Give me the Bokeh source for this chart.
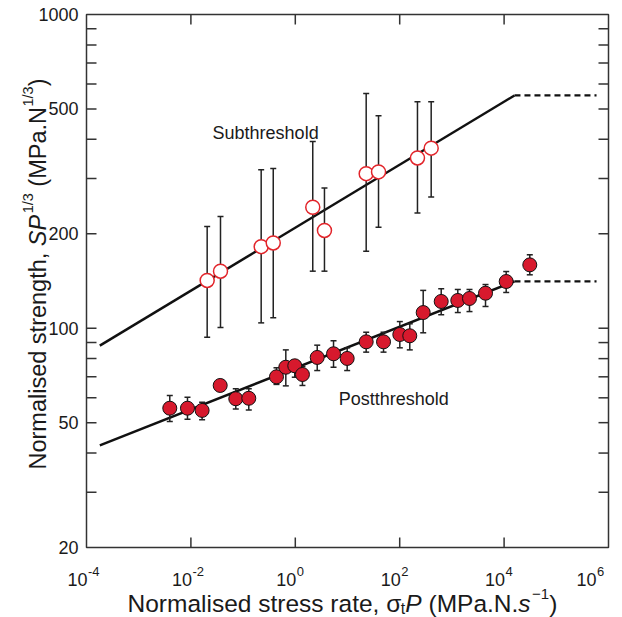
import math
from bokeh.plotting import figure
from bokeh.embed import file_html
from bokeh.resources import INLINE
from bokeh.core.properties import value

# ---------------- data ----------------
sub_x = [0.0205, 0.0369, 0.222, 0.378, 2.16, 3.62, 22.8, 39.3, 219, 401]
sub_y = [142, 152, 182, 187, 243, 205, 311, 315, 349, 375]
sub_hi = [211, 227, 320, 323, 394, 280, 560, 476, 527, 527]
sub_lo = [93.6, 100.5, 104, 108, 152, 152, 176, 210, 233, 262]

post_x = [0.00394, 0.0086, 0.0164, 0.0364, 0.0724, 0.1285, 0.436, 0.658, 0.977, 1.37,
          2.63, 5.40, 9.86, 22.8, 49.0, 100.5, 156, 282, 624, 1297, 2173, 4406, 10970, 31050]
post_y = [55.6, 55.6, 54.7, 65.7, 59.6, 59.8, 70.0, 75.1, 75.9, 71.2,
          80.7, 82.9, 80.1, 90.5, 90.5, 95.5, 94.6, 112.2, 121.7, 122.6, 124.4, 129.3, 140.9, 159.2]
post_hi = [61.0, 60.3, 58.1, None, 64.1, 64.1, 74.8, 85.3, 78.9, 75.5,
           88.3, 91.2, 86.6, 97.1, 97.1, 105, 103.3, 132, 133.6, 132.9, 132.9, 137.8, 151.6, 171.4]
post_lo = [50.4, 51.3, 51.1, None, 55.3, 54.9, 66.2, 65.5, 69.8, 65.7,
           73.3, 75.1, 73.3, 83.9, 83.9, 86.6, 85.3, 96.7, 110.4, 112.2, 113, 117.3, 130, 148]

sub_fit_x = [1.8e-4, 1.58e4]
sub_fit_y = [88, 552]
post_fit_x = [1.8e-4, 1.58e4]
post_fit_y = [42.3, 141]
plateau_end = 5.9e5

x_lim = [1e-4, 1e6]
y_lim = [20, 1000]
x_ticks = [1e-4, 1e-2, 1.0, 1e2, 1e4, 1e6]
x_exps = ["-4", "-2", "0", "2", "4", "6"]
y_ticks = [20, 50, 100, 200, 500, 1000]
y_minor = [30, 40, 60, 70, 80, 90, 300, 400, 600, 700, 800, 900]
y_labels = ["20", "50", "100", "200", "500", "1000"]

annot_text = ["Subthreshold", "Postthreshold"]
annot_x = [0.026, 6.8]
annot_y = [418, 59.3]

# ---------------- layout / style ----------------
FONT = "Liberation Sans"
INK = "#1a1a1a"
FRAME = "#333333"
RED = "#d7192d"
OPEN_RED = "#e2252b"

WIDTH, HEIGHT = 622, 617
BOX_L, BOX_R, BOX_T, BOX_B = 86, 608, 14, 547   # pixel edges of the plotting box
TICK = 10

W = {' ': 278, '(': 333, ')': 333, ',': 278, '-': 333, '.': 278, '/': 278,
     'M': 833, 'N': 722, 'P': 667, 'S': 667,
     'a': 556, 'd': 556, 'e': 556, 'g': 556, 'h': 556, 'i': 222, 'l': 222,
     'm': 833, 'n': 556, 'o': 556, 'r': 333, 's': 500, 't': 278,
     '\u03c3': 600, '\u2212': 584}


def tw(s, size):
    return sum(W.get(c, 556) for c in s) * size / 1000.0


# ranges chosen so that the box [x_lim, y_lim] sits at the pixel edges above
lx0, lx1 = math.log10(x_lim[0]), math.log10(x_lim[1])
ly0, ly1 = math.log10(y_lim[0]), math.log10(y_lim[1])
dpx = (BOX_R - BOX_L) / (lx1 - lx0)
dpy = (BOX_B - BOX_T) / (ly1 - ly0)
x_range = (10 ** (lx0 - BOX_L / dpx), 10 ** (lx1 + (WIDTH - BOX_R) / dpx))
y_range = (10 ** (ly0 - (HEIGHT - BOX_B) / dpy), 10 ** (ly1 + BOX_T / dpy))

p = figure(width=WIDTH, height=HEIGHT, x_axis_type="log", y_axis_type="log",
           x_range=x_range, y_range=y_range, x_axis_location=None, y_axis_location=None,
           output_backend="svg", toolbar_location=None, min_border=0)
p.grid.visible = False
p.outline_line_color = None
p.background_fill_color = "white"
p.border_fill_color = "white"

# plotting box
p.quad(left=[x_lim[0]], right=[x_lim[1]], bottom=[y_lim[0]], top=[y_lim[1]],
       fill_color=None, line_color=FRAME, line_width=1.5)

# inward ticks on all four sides
xt_inner = x_ticks[1:-1]
y_all = [t for t in sorted(y_ticks + y_minor) if y_lim[0] < t < y_lim[1]]
p.ray(x=xt_inner, y=[y_lim[0]] * len(xt_inner), length=TICK, length_units="screen",
      angle=math.pi / 2, line_color=FRAME, line_width=1.5)
p.ray(x=xt_inner, y=[y_lim[1]] * len(xt_inner), length=TICK, length_units="screen",
      angle=-math.pi / 2, line_color=FRAME, line_width=1.5)
p.ray(x=[x_lim[0]] * len(y_all), y=y_all, length=TICK, length_units="screen",
      angle=0, line_color=FRAME, line_width=1.5)
p.ray(x=[x_lim[1]] * len(y_all), y=y_all, length=TICK, length_units="screen",
      angle=math.pi, line_color=FRAME, line_width=1.5)

# y tick labels
p.text(x=[x_lim[0]] * len(y_ticks), y=y_ticks, text=y_labels, x_offset=-8,
       text_font=value(FONT), text_font_size="18px", text_color=INK,
       text_align="right", text_baseline="middle")

# x tick labels: "10" + superscript exponent
offs = [1 if i < len(x_ticks) - 1 else -12 for i in range(len(x_ticks))]
p.text(x=x_ticks, y=[y_lim[0]] * len(x_ticks), text=["10"] * len(x_ticks),
       x_offset=offs, y_offset=32, text_font=value(FONT), text_font_size="18px",
       text_color=INK, text_align="right", text_baseline="alphabetic")
p.text(x=x_ticks, y=[y_lim[0]] * len(x_ticks), text=x_exps,
       x_offset=[o + 0.5 for o in offs], y_offset=24, text_font=value(FONT),
       text_font_size="13px", text_color=INK, text_align="left", text_baseline="alphabetic")

# fit lines
p.line(sub_fit_x, sub_fit_y, line_width=2.5, line_color="#111111")
p.line([sub_fit_x[-1], plateau_end], [sub_fit_y[-1], sub_fit_y[-1]], line_width=2.2,
       line_color="#111111", line_dash="6 4")
p.line(post_fit_x, post_fit_y, line_width=2.5, line_color="#111111")
p.line([post_fit_x[-1], plateau_end], [post_fit_y[-1], post_fit_y[-1]], line_width=2.2,
       line_color="#111111", line_dash="6 4")


def error_bars(xs, lo, hi):
    ex, elo, ehi = [], [], []
    for x, a, b in zip(xs, lo, hi):
        if a is None or b is None:
            continue
        ex.append(x); elo.append(a); ehi.append(b)
    p.segment(x0=ex, y0=elo, x1=ex, y1=ehi, line_width=1.5, line_color="#222222")
    p.scatter(ex + ex, elo + ehi, marker="dash", size=6, line_width=1.5, line_color="#222222")


error_bars(sub_x, sub_lo, sub_hi)
error_bars(post_x, post_lo, post_hi)

p.scatter(sub_x, sub_y, marker="circle", size=14, fill_color="white",
          line_color=OPEN_RED, line_width=1.5)
p.scatter(post_x, post_y, marker="circle", size=14, fill_color=RED,
          line_color="#111111", line_width=1)

p.text(x=annot_x, y=annot_y, text=annot_text, text_font=value(FONT), text_font_size="18px",
       text_color=INK, text_baseline="alphabetic", text_align="left")

# ---------------- composite axis titles ----------------
FX, FY = 24.5, 23.5
SUPX, SUPY = 15, 14.5
RAISE = 9.5

# (text, style, size, raise, gap before)
xpieces = [("Normalised stress rate, \u03c3", "normal", FX, 0, 0),
           ("t", "normal", 16, -5, 0),
           ("P", "italic", FX, 0, 0),
           ("(MPa.N.", "normal", FX, 0, tw(" ", FX)),
           ("s", "italic", FX, 0, 0),
           ("\u22121", "normal", SUPX, RAISE, 1.5),
           (")", "normal", FX, 0, 0)]
cx = 127.0 - BOX_L
for txt, st, sz, dy, gap in xpieces:
    cx += gap
    p.text(x=[x_lim[0]], y=[y_lim[0]], text=[txt], x_offset=cx, y_offset=603 - BOX_B - dy,
           text_font=value(FONT), text_font_style=st, text_font_size=f"{sz}px",
           text_color=INK, text_align="left", text_baseline="alphabetic")
    cx += tw(txt, sz)

ypieces = [("Normalised strength,", "normal", FY, 0, 0),
           ("SP", "italic", FY, 0, tw(" ", FY)),
           ("1/3", "normal", SUPY, RAISE, 1.5),
           ("(MPa.N", "normal", FY, 0, tw(" ", FY)),
           ("1/3", "normal", SUPY, RAISE, 0.5),
           (")", "normal", FY, 0, 0)]
cy = BOX_B - 469.0
for txt, st, sz, dy, gap in ypieces:
    cy += gap
    p.text(x=[x_lim[0]], y=[y_lim[0]], text=[txt], x_offset=37 - BOX_L - dy, y_offset=-cy,
           angle=math.pi / 2, text_font=value(FONT), text_font_style=st,
           text_font_size=f"{sz}px", text_color=INK,
           text_align="left", text_baseline="alphabetic")
    cy += tw(txt, sz)

open("out.html", "w").write(file_html(p, INLINE))
